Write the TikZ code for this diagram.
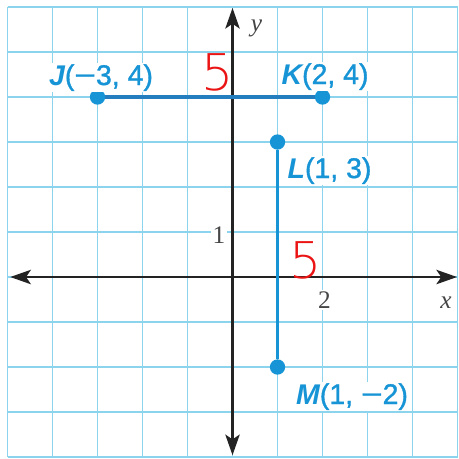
\documentclass[tikz,border=0pt]{standalone}
\usepackage{fontspec}
\setmainfont{Liberation Serif}
\setsansfont{Liberation Sans}
\newfontfamily\labfont[FakeBold=1.2]{Liberation Sans}
\newfontfamily\handfont{DejaVuSans-ExtraLight.ttf}
\usetikzlibrary{arrows.meta}
\definecolor{gridc}{RGB}{140,212,237}
\definecolor{ptblue}{RGB}{22,148,214}
\definecolor{segblue}{RGB}{35,125,190}
\definecolor{axisc}{RGB}{35,35,35}
\definecolor{numc}{RGB}{70,70,70}
\definecolor{penred}{RGB}{235,20,20}
\tikzset{
  gridline/.style={draw=gridc, line width=1.2pt},
  axisline/.style={draw=axisc, line width=1.8pt,
    {Stealth[length=13pt,width=9pt,inset=3pt]}-{Stealth[length=13pt,width=9pt,inset=3pt]}},
  seg/.style={draw=segblue, line width=2.5pt},
  segb/.style={draw=ptblue, line width=2.5pt},
  dot/.style={circle, fill=ptblue, minimum size=0.34cm, inner sep=0pt},
  ptlabel/.style={fill=white, inner sep=1pt, text=ptblue, anchor=base,
    font=\labfont\fontsize{18}{18}\selectfont},
  numlabel/.style={fill=white, inner sep=1pt, text=numc,
    font=\rmfamily\fontsize{16}{16}\selectfont},
  axlabel/.style={inner sep=0pt, text=numc,
    font=\rmfamily\itshape\fontsize{16}{16}\selectfont},
  penmark/.style={inner sep=0pt, text=penred,
    font=\handfont\fontsize{32}{32}\selectfont}
}
\newcommand{\pmin}{\scalebox{1.3}[1]{−}}
\newcommand{\ptname}[1]{{\sffamily\bfseries\itshape #1}}
\begin{document}
\begin{tikzpicture}
\useasboundingbox (-5.167,-4.022) rectangle (5.033,6.156);
\fill[white] (-5.167,-4.022) rectangle (5.033,6.156);
\begin{scope}
  \clip (-5.167,-4.022) rectangle (5.033,6.156);
  \draw[gridline] (-5,-4) grid (5,6);
\end{scope}
% tick labels
\node[numlabel] (one) at (-0.3,0.933) {1};
\node[numlabel] (two) at (2.044,-0.511) {2};
% axes
\coordinate (xl) at (-4.94,0);
\coordinate (xr) at (4.99,0);
\coordinate (yb) at (0,-3.96);
\coordinate (yt) at (0,5.98);
\draw[axisline] (xl) -- (xr);
\draw[axisline] (yb) -- (yt);
\node[axlabel] (ylab) at (0.533,5.53) {y};
\node[axlabel] (xlab) at (4.744,-0.578) {x};
% points
\node[dot] (J) at (-3,4) {};
\node[dot] (K) at (2,4) {};
\node[dot] (L) at (1,3) {};
\node[dot] (M) at (1,-2) {};
\draw[seg] (J) -- (K);
\draw[segb] (L) -- (M);
% point labels
\node[ptlabel] (Jlab) at (-2.922,4.267) {\ptname{J}(\pmin3, 4)};
\node[ptlabel] (Klab) at (2.056,4.289) {\ptname{K}(2, 4)};
\node[ptlabel] (Llab) at (2.156,2.2) {\ptname{L}(1, 3)};
\node[ptlabel] (Mlab) at (2.656,-2.822) {\ptname{M}(1, \pmin2)};
% handwritten marks
\node[penmark] (five1) at (-0.322,4.556) {5};
\node[penmark] (five2) at (1.633,0.378) {5};
\end{tikzpicture}
\end{document}
